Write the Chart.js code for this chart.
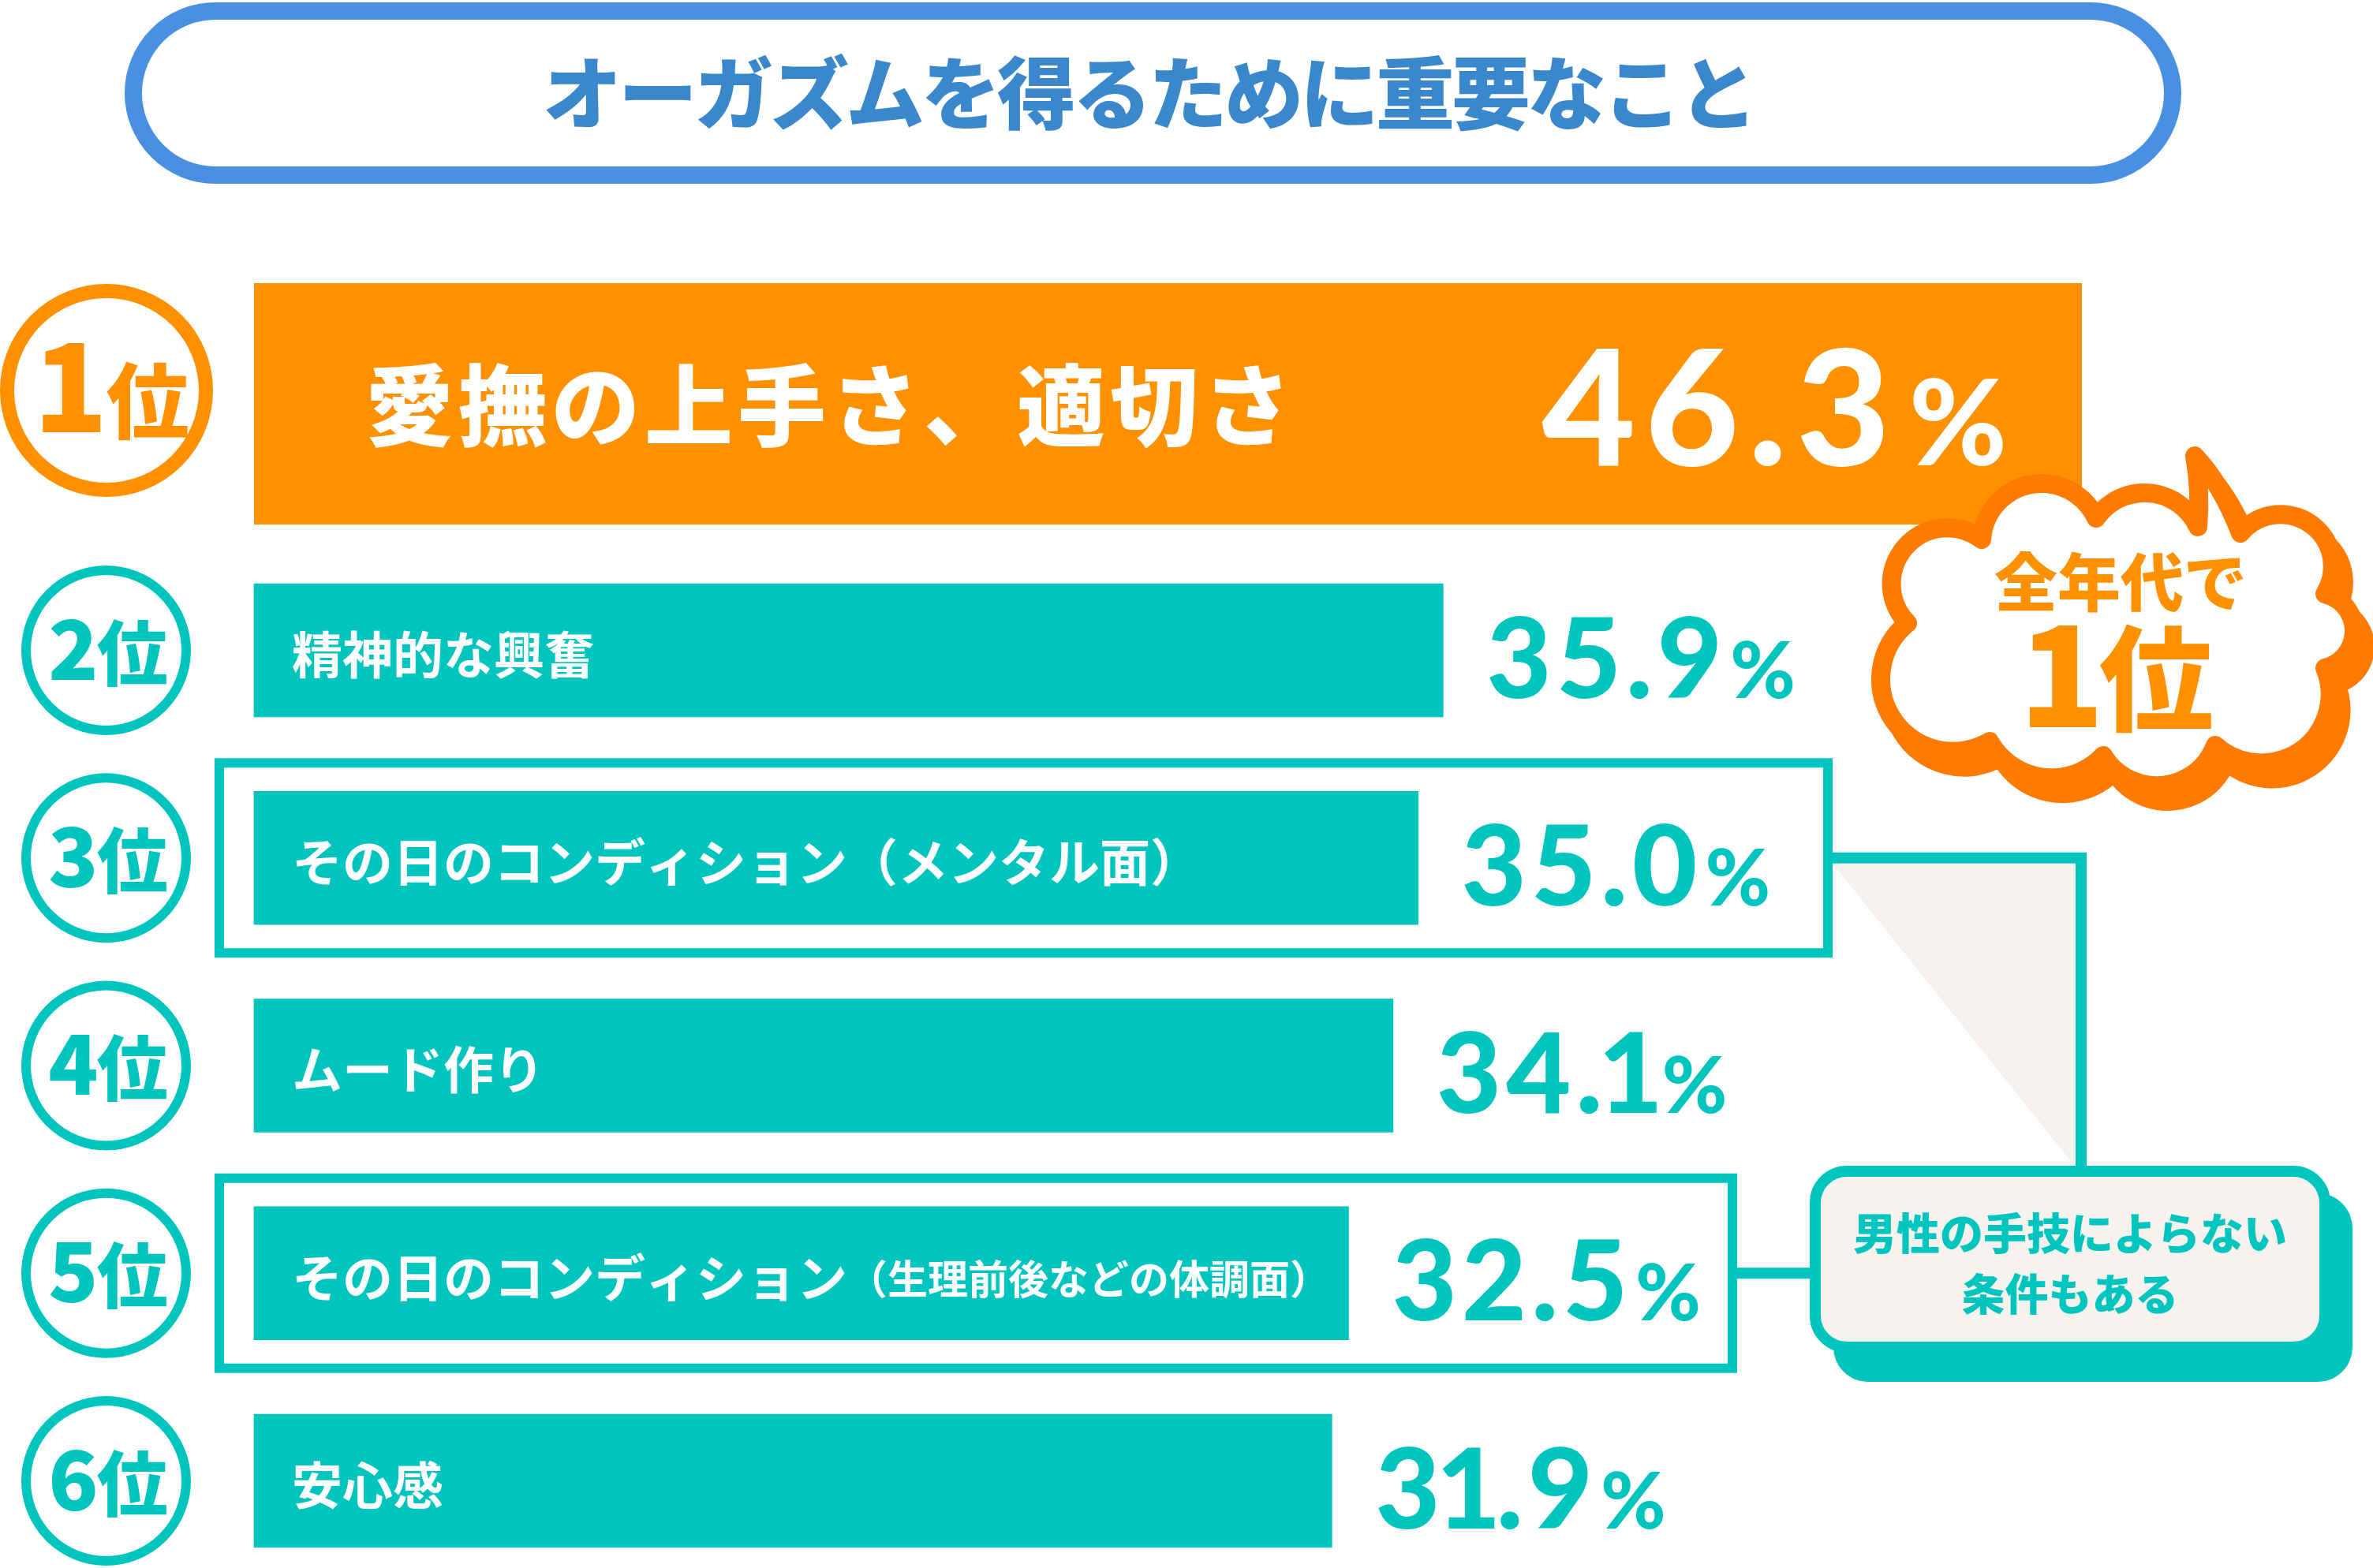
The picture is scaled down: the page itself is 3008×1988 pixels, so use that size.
<!DOCTYPE html>
<html><head><meta charset="utf-8">
<script src="https://cdn.jsdelivr.net/npm/chart.js@4.4.1/dist/chart.umd.min.js"></script>
<style>
html,body{margin:0;padding:0;background:#fff;width:3008px;height:1988px;overflow:hidden;}
canvas{position:absolute;left:0;top:0;}
#topChart{z-index:1}
#mainChart{z-index:2}
</style></head><body>
<canvas id="topChart" width="3008" height="1988"></canvas>
<canvas id="mainChart" width="3008" height="1988"></canvas>
<script>
// ---------- data ----------
const titleText = 'オーガズムを得るために重要なこと';
const categories = [
  '愛撫の上手さ、適切さ',
  '精神的な興奮',
  'その日のコンディション（メンタル面）',
  'ムード作り',
  'その日のコンディション（生理前後などの体調面）',
  '安心感'
];
const values = [46.3, 35.9, 35.0, 34.1, 32.5, 31.9];
const rankNumbers = ['1', '2', '3', '4', '5', '6'];
const rankSuffix = '位';
const framedRanks = [3, 5];
const cloudLines = ['全年代で', '1位'];
const noteLines = ['男性の手技によらない', '条件もある'];

// ---------- style ----------
const ORANGE = '#FF9100', TEAL = '#00C4BE', CLOUD = '#FF7A00';
const BLUE_BORDER = '#4A90E2', BLUE_TEXT = '#3A87CC', BEIGE = '#F6F3EF';
const JP = '"Noto Sans CJK JP", "Noto Sans", sans-serif';
const NUM = 'Lato, "Noto Sans", sans-serif';
const AXIS_MIN = -6.86, AXIS_MAX = 58.87;

// advance of a character; digit "1" is set proportionally narrow
function adv(ctx, ch, prop) {
  const w = ctx.measureText(ch).width;
  return (prop && ch === '1') ? w * 0.72 : w;
}
function spacedWidth(ctx, text, sp, prop) {
  let w = 0; for (const ch of text) w += adv(ctx, ch, prop) + sp; return w - sp;
}
function drawSpaced(ctx, text, x, y, sp, prop) {
  for (const ch of text) {
    const w = ctx.measureText(ch).width;
    const a = adv(ctx, ch, prop);
    ctx.fillText(ch, x - (w - a) / 2, y);
    x += a + sp;
  }
  return x - sp;
}
function drawRank(ctx, cx, baseY, num, numSize, sufSize, color) {
  ctx.save();
  ctx.fillStyle = color; ctx.textBaseline = 'alphabetic'; ctx.textAlign = 'left';
  ctx.font = `900 ${numSize}px ${JP}`; const w1 = ctx.measureText(num).width;
  ctx.font = `900 ${sufSize}px ${JP}`; const w2 = ctx.measureText(rankSuffix).width;
  const gap = -2; let x = cx - (w1 + gap + w2) / 2;
  ctx.font = `900 ${numSize}px ${JP}`; ctx.fillText(num, x, baseY);
  x += w1 + gap;
  ctx.font = `900 ${sufSize}px ${JP}`; ctx.fillText(rankSuffix, x, baseY);
  ctx.restore();
}
function drawCircle(ctx, cx, cy, r, lw, color) {
  ctx.save(); ctx.beginPath(); ctx.arc(cx, cy, r, 0, Math.PI * 2);
  ctx.fillStyle = '#fff'; ctx.fill(); ctx.lineWidth = lw; ctx.strokeStyle = color; ctx.stroke(); ctx.restore();
}
function valueParts(ctx, v, numFont, pctFont, sp, gap) {
  const s = v.toFixed(1);
  ctx.font = numFont; const w1 = spacedWidth(ctx, s, sp, true);
  ctx.font = pctFont; const w2 = ctx.measureText('%').width;
  return { s, w1, w2, total: w1 + gap + w2 };
}
function drawValue(ctx, v, x, baseY, numFont, pctFont, sp, gap, color) {
  const p = valueParts(ctx, v, numFont, pctFont, sp, gap);
  ctx.save(); ctx.fillStyle = color; ctx.textBaseline = 'alphabetic'; ctx.textAlign = 'left';
  ctx.font = numFont; const end = drawSpaced(ctx, p.s, x, baseY, sp, true);
  ctx.font = pctFont; ctx.fillText('%', end + gap, baseY);
  ctx.restore();
  return end + gap + p.w2;
}
function rr(ctx, x, y, w, h, r) {
  ctx.beginPath();
  ctx.moveTo(x + r, y); ctx.lineTo(x + w - r, y); ctx.arcTo(x + w, y, x + w, y + r, r);
  ctx.lineTo(x + w, y + h - r); ctx.arcTo(x + w, y + h, x + w - r, y + h, r);
  ctx.lineTo(x + r, y + h); ctx.arcTo(x, y + h, x, y + h - r, r);
  ctx.lineTo(x, y + r); ctx.arcTo(x, y, x + r, y, r); ctx.closePath();
}
function arcThrough(ctx, A, M, B) {
  const [ax, ay] = A, [bx, by] = M, [cx, cy] = B;
  const d = 2 * (ax * (by - cy) + bx * (cy - ay) + cx * (ay - by));
  const ux = ((ax*ax+ay*ay)*(by-cy) + (bx*bx+by*by)*(cy-ay) + (cx*cx+cy*cy)*(ay-by)) / d;
  const uy = ((ax*ax+ay*ay)*(cx-bx) + (bx*bx+by*by)*(ax-cx) + (cx*cx+cy*cy)*(bx-ax)) / d;
  const r = Math.hypot(ax - ux, ay - uy);
  const a0 = Math.atan2(ay - uy, ax - ux), a1 = Math.atan2(cy - uy, cx - ux), am = Math.atan2(by - uy, bx - ux);
  const norm = a => ((a % (2 * Math.PI)) + 2 * Math.PI) % (2 * Math.PI);
  const anticlockwise = !(norm(am - a0) < norm(a1 - a0));
  ctx.arc(ux, uy, r, a0, a1, anticlockwise);
}
const CLOUD_START = [2418, 790];
const CLOUD_SEQ = [
  ['arc', [2400, 722], [2512, 684]],
  ['arc', [2590, 613], [2657, 657]],
  ['arc', [2722, 625], [2786, 668]],
  ['quad', [2790, 622], [2782, 578]],
  ['quad', [2815, 612], [2840, 676]],
  ['arc', [2922, 660], [2947, 753]],
  ['arc', [2984, 800], [2947, 847]],
  ['arc', [2882, 966], [2808, 945]],
  ['arc', [2735, 996], [2666, 958]],
  ['arc', [2594, 986], [2522, 940]],
  ['arc', [2386, 880], [2418, 790]]
];
function cloudPath(ctx, dx, dy) {
  const T = p => [p[0] + dx, p[1] + dy];
  let cur = T(CLOUD_START);
  ctx.beginPath(); ctx.moveTo(cur[0], cur[1]);
  for (const [kind, c, e] of CLOUD_SEQ) {
    const C = T(c), E = T(e);
    if (kind === 'arc') arcThrough(ctx, cur, C, E);
    else ctx.quadraticCurveTo(C[0], C[1], E[0], E[1]);
    cur = E;
  }
  ctx.closePath();
}

// ---------- top (rank 1) chart ----------
const topDecor = {
  id: 'topDecor',
  beforeDatasetsDraw(chart) {
    const ctx = chart.ctx;
    ctx.save();
    rr(ctx, 169, 14, 2585, 208, 104);
    ctx.fillStyle = '#fff'; ctx.fill();
    ctx.lineWidth = 22; ctx.strokeStyle = BLUE_BORDER; ctx.stroke();
    ctx.fillStyle = BLUE_TEXT; ctx.textBaseline = 'middle'; ctx.textAlign = 'left';
    ctx.font = `900 100px ${JP}`;
    const tw = spacedWidth(ctx, titleText, -4, false);
    drawSpaced(ctx, titleText, 1458 - tw / 2, 118, -4, false);
    ctx.restore();
  },
  afterDatasetsDraw(chart) {
    const ctx = chart.ctx;
    const bar = chart.getDatasetMeta(0).data[0];
    const p = bar.getProps(['x', 'y', 'base', 'height'], true);
    drawCircle(ctx, 135, p.y - 17, 126, 18, ORANGE);
    drawRank(ctx, 141, p.y + 36, rankNumbers[0], 155, 105, ORANGE);
    ctx.save(); ctx.fillStyle = '#fff'; ctx.textBaseline = 'middle'; ctx.textAlign = 'left';
    ctx.font = `900 112px ${JP}`;
    drawSpaced(ctx, categories[0], p.base + 141, p.y + 2, 6, false);
    ctx.restore();
    const numFont = `900 205px ${NUM}`, pctFont = `900 150px ${NUM}`;
    const parts = valueParts(ctx, values[0], numFont, pctFont, 12, 24);
    drawValue(ctx, values[0], p.x - 95 - parts.total, p.y + 78, numFont, pctFont, 12, 24, '#fff');
  }
};

new Chart(document.getElementById('topChart'), {
  type: 'bar',
  data: {
    labels: [categories[0]],
    datasets: [{ data: [values[0]], backgroundColor: ORANGE, borderWidth: 0, barPercentage: 1, categoryPercentage: 1 }]
  },
  options: {
    indexAxis: 'y', responsive: false, devicePixelRatio: 1, animation: false,
    layout: { padding: { left: 322, right: 369, top: 359, bottom: 1323 } },
    scales: {
      x: { display: false, min: 0, max: values[0] },
      y: { display: false, offset: true }
    },
    plugins: { legend: { display: false }, tooltip: { enabled: false } }
  },
  plugins: [topDecor]
});

// ---------- main chart (ranks 2-6) ----------
const mainDecor = {
  id: 'mainDecor',
  beforeDatasetsDraw(chart) {
    const ctx = chart.ctx;
    const meta = chart.getDatasetMeta(0);
    const right = chart.chartArea.right;
    const boxRight = { 3: 2323, 5: 2202 };
    const b3 = meta.data[framedRanks[0] - 2].getProps(['x', 'y', 'base', 'height'], true);
    const b5 = meta.data[framedRanks[1] - 2].getProps(['x', 'y', 'base', 'height'], true);
    ctx.save();
    ctx.fillStyle = BEIGE;
    ctx.beginPath(); ctx.moveTo(2323, b3.y + 7); ctx.lineTo(right - 8, b3.y + 7); ctx.lineTo(right - 8, 1480); ctx.closePath(); ctx.fill();
    ctx.strokeStyle = TEAL; ctx.lineWidth = 14; ctx.lineJoin = 'miter'; ctx.lineCap = 'butt';
    ctx.beginPath(); ctx.moveTo(2317, b3.y); ctx.lineTo(right - 1, b3.y); ctx.lineTo(right - 1, 1490); ctx.stroke();
    ctx.beginPath(); ctx.moveTo(2196, b5.y); ctx.lineTo(2302, b5.y); ctx.stroke();
    ctx.lineWidth = 12;
    framedRanks.forEach(rk => {
      const p = meta.data[rk - 2].getProps(['x', 'y', 'base', 'height'], true);
      const l = p.base - 50, t = p.y - p.height / 2 - 42, b = p.y + p.height / 2 + 42, r = boxRight[rk];
      ctx.strokeRect(l + 6, t + 6, r - l - 12, b - t - 12);
    });
    rr(ctx, 2324, 1513, 658, 239, 44); ctx.fillStyle = TEAL; ctx.fill();
    rr(ctx, 2301, 1485, 646, 223, 40); ctx.fillStyle = BEIGE; ctx.fill();
    ctx.lineWidth = 14; ctx.strokeStyle = TEAL; ctx.stroke();
    ctx.fillStyle = TEAL; ctx.textAlign = 'center'; ctx.textBaseline = 'middle';
    ctx.font = `900 55px ${JP}`;
    ctx.fillText(noteLines[0], 2624, 1563);
    ctx.fillText(noteLines[1], 2624, 1640);
    ctx.restore();
  },
  afterDatasetsDraw(chart) {
    const ctx = chart.ctx;
    const meta = chart.getDatasetMeta(0);
    meta.data.forEach((bar, i) => {
      const k = i + 1;
      const p = bar.getProps(['x', 'y', 'base', 'height'], true);
      drawCircle(ctx, 134.5, p.y, 101.5, 12, TEAL);
      drawRank(ctx, 137, p.y + 37, rankNumbers[k], 104, 90, TEAL);
      ctx.save(); ctx.fillStyle = '#fff'; ctx.textBaseline = 'middle'; ctx.textAlign = 'left';
      const label = categories[k];
      const x0 = p.base + 48, ty = p.y + 5;
      ctx.font = `bold 64px ${JP}`;
      const full = spacedWidth(ctx, label, 0, false);
      const avail = p.x - x0 - 16;
      const pi = label.indexOf('（');
      if (full > avail && pi > 0) {
        const main = label.slice(0, pi), sub = label.slice(pi);
        const endMain = drawSpaced(ctx, main, x0, ty, 0, false);
        const mainW = endMain - x0;
        const subW = spacedWidth(ctx, sub, 0, false);
        const size = Math.floor(64 * Math.min(1, (avail - mainW) / subW));
        ctx.font = `bold ${size}px ${JP}`;
        drawSpaced(ctx, sub, endMain, ty + 2, 0, false);
      } else {
        drawSpaced(ctx, label, x0, ty, 0, false);
      }
      ctx.restore();
      drawValue(ctx, values[k], p.x + 55, p.y + 60, `900 142px ${NUM}`, `900 100px ${NUM}`, 6, 10, TEAL);
    });
  },
  afterDraw(chart) {
    const ctx = chart.ctx;
    ctx.save();
    ctx.lineJoin = 'round'; ctx.lineWidth = 24;
    cloudPath(ctx, 14, 20); ctx.fillStyle = CLOUD; ctx.fill(); ctx.strokeStyle = CLOUD; ctx.stroke();
    cloudPath(ctx, 0, 0); ctx.fillStyle = '#fff'; ctx.fill(); ctx.strokeStyle = CLOUD; ctx.stroke();
    ctx.fillStyle = ORANGE; ctx.textAlign = 'center'; ctx.textBaseline = 'middle';
    ctx.font = `900 80px ${JP}`;
    ctx.fillText(cloudLines[0], 2688, 738);
    const num = cloudLines[1].slice(0, 1), suf = cloudLines[1].slice(1);
    ctx.textAlign = 'left'; ctx.textBaseline = 'alphabetic';
    ctx.font = `900 178px ${JP}`; const w1 = ctx.measureText(num).width * 0.8;
    ctx.font = `900 145px ${JP}`; const w2 = ctx.measureText(suf).width;
    let x = 2688 - (w1 + 4 + w2) / 2;
    ctx.font = `900 178px ${JP}`; ctx.fillText(num, x - ctx.measureText(num).width * 0.1, 922);
    ctx.font = `900 145px ${JP}`; ctx.fillText(suf, x + w1 + 4, 916);
    ctx.restore();
  }
};

new Chart(document.getElementById('mainChart'), {
  type: 'bar',
  data: {
    labels: categories.slice(1),
    datasets: [{
      data: values.slice(1), backgroundColor: TEAL, borderWidth: 0,
      barThickness: 169, base: AXIS_MIN, clip: false
    }]
  },
  options: {
    indexAxis: 'y', responsive: false, devicePixelRatio: 1, animation: false,
    layout: { padding: { left: 322, right: 369, top: 824.5, bottom: 110.5 } },
    scales: {
      x: { display: false, min: AXIS_MIN, max: AXIS_MAX },
      y: { display: false, offset: false }
    },
    plugins: { legend: { display: false }, tooltip: { enabled: false } }
  },
  plugins: [mainDecor]
});
</script>
</body></html>
